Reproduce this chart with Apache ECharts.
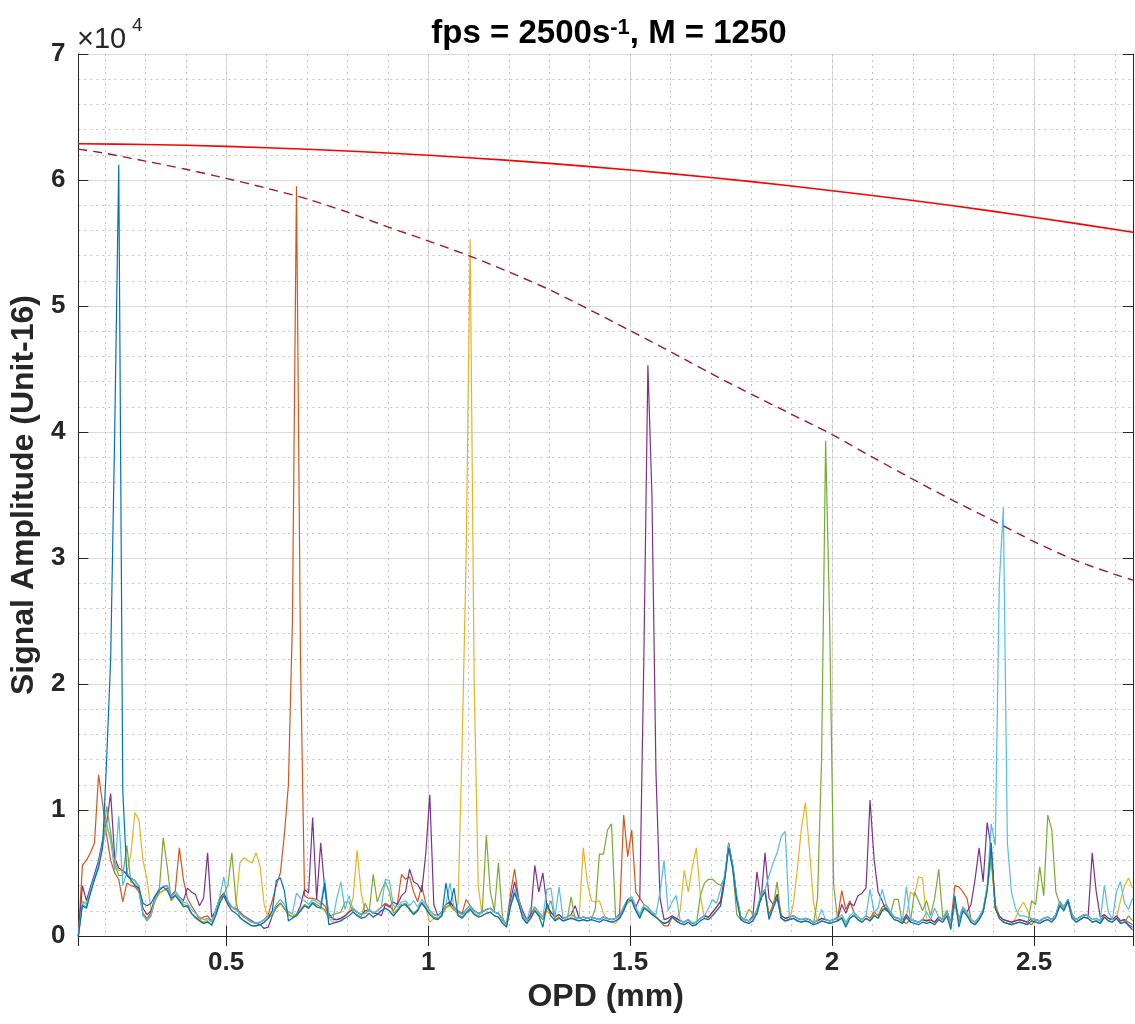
<!DOCTYPE html>
<html><head><meta charset="utf-8">
<script src="https://cdn.jsdelivr.net/npm/echarts@6/dist/echarts.min.js"></script>
<style>html,body{margin:0;padding:0;background:#fff}#c{width:1135px;height:1024px}</style>
</head><body><div id="c"></div>
<script>
// OPD sampling grid (mm)
const OPD_START = 0.134, OPD_STEP = 0.01;
// signal amplitudes, in thousands of counts, one value per OPD sample
const sigBlue = [
0,2.4,2.2,3.4,4.5,5.4,7.0,14,22,40,
61.2,11.5,4.8,4.5,4.0,3.8,2.6,2.4,2.6,3.2,
3.6,3.9,3.6,3.0,3.2,2.8,2.3,2.4,1.8,1.5,
1.2,1.0,1.1,0.9,1.6,2.6,3.2,2.5,2.0,1.8,
1.5,1.2,1.0,0.8,0.8,0.9,1.1,1.4,2.0,4.4,
4.6,3.6,1.2,1.4,1.6,2.0,2.4,2.2,2.6,2.3,
2.2,4.2,0.9,1.0,1.1,1.2,1.4,1.6,1.9,1.6,
1.4,1.5,1.8,1.5,1.7,2.0,2.2,2.0,1.6,2.0,
2.4,2.5,2.1,1.7,2.0,2.6,2.2,1.7,1.4,1.3,
1.6,4.2,2.4,3.8,1.6,1.4,1.8,2.1,1.7,1.5,
1.6,1.8,1.9,1.6,1.5,1.0,0.7,2.4,3.4,2.6,
1.4,1.0,1.4,2.0,1.6,0.7,2.6,1.6,1.2,1.4,
1.2,1.3,1.4,1.3,1.2,1.3,1.2,1.3,1.2,1.1,
1.3,1.2,1.1,1.2,1.4,2.0,2.9,2.8,2.0,1.4,
2.2,2.0,1.7,1.5,1.2,1.0,1.1,1.5,1.2,1.0,
0.9,1.1,0.8,0.9,1.2,1.4,1.3,1.6,2.0,2.4,
4.4,7.0,5.3,2.8,1.3,1.1,1.0,1.2,1.8,3.0,
3.5,1.3,2.2,3.0,1.4,1.2,1.3,1.4,1.2,1.1,
1.2,1.1,0.9,1.0,1.2,1.1,1.0,1.1,1.2,1.4,
0.7,1.4,1.6,1.3,1.1,1.4,1.2,1.6,1.4,2.0,
2.2,1.7,1.3,1.2,1.0,1.5,1.1,1.0,0.9,1.1,
1.0,1.1,0.9,1.3,1.1,1.6,0.5,3.2,0.7,2.0,
1.6,1.1,0.9,1.3,1.9,3.6,7.4,2.2,1.4,1.1,
1.0,0.9,1.0,1.1,1.0,0.9,1.2,1.1,1.0,1.2,
1.3,1.1,1.5,2.4,2.0,2.8,1.4,1.1,1.3,1.5,
1.4,1.1,1.2,1.0,1.5,1.2,1.1,1.4,1.0,1.1,
0.9,0.7];
const sigOrange = [
0,5.6,6.0,6.6,7.4,12.8,10.5,8.0,6.0,5.0,
4.5,2.7,4.2,4.0,3.9,3.5,1.8,1.4,1.9,2.8,
3.4,3.6,3.8,3.2,3.6,7.0,4.5,3.0,2.4,1.9,
1.3,1.5,1.6,1.2,2.0,3.0,3.2,2.6,2.3,2.2,
1.9,1.6,1.4,1.2,1.0,1.1,1.3,1.7,2.8,4.0,
5.0,8.0,12.0,25.0,59.5,22.0,3.2,3.0,3.0,2.9,
2.7,2.4,1.7,1.4,1.3,1.4,1.6,1.9,2.2,1.9,
1.7,1.8,2.1,1.8,2.0,2.3,2.6,2.4,2.0,2.6,
4.9,4.5,4.7,3.5,2.7,4.0,2.6,2.0,1.7,1.6,
1.9,2.5,2.7,2.3,2.0,1.8,2.9,2.4,2.0,1.8,
1.9,2.1,2.2,1.9,1.8,1.3,0.9,3.4,5.3,3.0,
1.7,1.2,1.7,2.3,1.9,1.5,2.3,1.9,1.5,1.7,
1.4,1.5,1.7,1.5,1.4,1.5,1.4,1.5,1.4,1.3,
1.5,1.4,1.3,1.4,1.8,9.6,6.3,8.4,3.5,3.0,
2.5,2.3,1.9,1.5,1.2,0.8,0.8,1.5,1.4,1.2,
1.1,1.3,1.0,1.1,1.4,1.6,1.5,1.9,2.3,2.8,
4.7,7.4,5.6,3.1,1.5,1.3,1.2,1.4,2.1,3.3,
3.7,1.7,2.5,3.3,1.6,1.4,1.5,1.6,1.4,1.3,
1.4,1.3,1.1,1.2,1.4,1.3,1.2,1.3,1.5,3.6,
2.1,2.8,1.9,1.5,1.3,1.6,1.4,1.9,1.6,2.3,
2.5,1.9,1.5,1.4,1.2,1.0,1.3,1.2,1.1,1.3,
1.2,1.3,1.1,1.5,1.3,2.0,1.1,4.0,3.9,3.5,
3.0,1.3,1.1,1.5,2.1,3.9,6.6,2.5,1.6,1.3,
1.2,1.1,1.2,1.3,1.2,1.1,0.9,1.3,1.2,1.4,
1.5,1.3,1.7,2.7,2.3,2.9,1.7,1.3,1.5,1.7,
1.6,1.3,1.4,1.2,1.7,1.4,1.3,1.6,1.2,1.3,
1.1,0.9];
const sigYellow = [
0,2.8,2.6,3.8,4.8,5.8,7.2,8.5,8.0,5.8,
5.2,5.2,5.0,6.5,9.8,9.2,6.0,4.5,2.0,2.8,
3.4,3.6,3.7,2.8,3.2,2.8,2.4,2.3,1.8,1.5,
1.3,1.1,1.4,1.1,2.0,3.0,3.3,2.5,2.0,2.4,
5.8,6.2,6.0,5.8,6.6,5.5,2.5,1.4,1.7,2.2,
2.6,2.2,1.9,1.7,1.6,2.0,2.4,2.2,2.6,2.4,
2.2,2.0,1.4,1.1,1.1,1.2,1.6,2.0,3.0,6.8,
3.5,1.8,1.8,1.5,1.7,2.0,2.2,2.0,1.6,2.0,
2.4,2.5,2.1,1.7,2.0,2.6,2.2,1.1,1.4,1.3,
1.6,2.2,2.4,2.0,2.5,15.0,30.0,55.3,20.0,4.0,
1.6,1.8,1.9,1.6,1.5,1.1,0.7,2.3,3.4,2.6,
1.5,1.0,1.5,2.0,1.6,1.3,2.0,1.6,1.3,1.5,
1.2,1.3,1.5,1.3,1.6,7.0,4.3,2.8,2.7,2.8,
1.8,1.2,1.1,1.0,1.4,2.0,2.6,2.8,2.0,1.5,
2.2,2.0,1.7,1.5,1.2,1.0,1.1,1.5,1.2,2.0,
5.2,3.5,5.5,7.0,3.2,1.4,1.3,1.7,2.0,2.4,
4.4,7.1,5.4,2.9,1.3,1.1,1.0,1.2,1.9,3.1,
3.5,1.5,2.3,3.1,1.4,1.2,1.3,2.5,5.3,8.5,
10.6,6.8,2.7,1.0,1.2,1.1,1.0,1.1,1.2,1.5,
0.9,1.4,1.7,1.3,1.1,1.4,1.2,1.7,1.4,2.1,
2.3,1.7,1.3,1.2,1.0,1.5,3.5,3.2,4.7,4.6,
1.3,1.1,0.9,1.3,1.1,1.8,0.8,2.6,1.1,2.1,
1.7,1.1,0.9,1.3,1.9,3.7,6.0,2.3,1.4,1.1,
1.0,0.9,1.4,2.2,2.7,2.0,1.2,1.1,1.0,1.2,
1.3,1.1,1.5,2.5,2.1,2.7,1.5,1.1,1.3,1.5,
1.4,1.1,1.2,1.0,1.5,1.2,1.1,1.4,2.8,4.0,
4.6,3.8];
const sigPurple = [
0,4.0,2.8,3.9,4.9,6.0,7.6,9.0,11.3,6.2,
5.4,5.2,4.9,4.6,4.4,3.9,2.2,1.7,2.0,3.1,
3.7,3.9,4.0,3.1,3.5,3.1,2.8,3.8,3.5,3.3,
2.4,3.0,6.6,1.5,2.0,3.0,3.4,2.8,2.3,2.1,
1.8,1.5,1.3,1.1,1.0,0.9,0.6,0.7,1.6,2.3,
2.6,2.2,1.7,1.5,1.7,2.4,3.7,3.4,9.4,2.9,
7.4,3.7,1.8,1.3,1.3,1.4,1.6,1.9,2.1,1.9,
1.7,2.0,2.1,1.8,1.8,1.6,2.5,2.3,2.7,2.5,
3.2,3.5,5.3,4.3,4.1,3.5,6.5,11.2,2.5,1.6,
1.9,2.5,2.7,2.3,1.9,1.7,2.1,2.4,2.0,1.8,
1.9,2.1,2.2,1.9,1.8,1.3,0.9,2.8,4.3,2.9,
2.0,1.3,1.7,5.6,3.5,5.0,2.4,1.9,1.5,1.7,
1.4,1.5,1.7,2.4,1.4,1.5,1.4,1.5,1.4,1.3,
1.5,1.4,1.3,1.4,1.6,2.3,2.9,3.1,2.3,3.0,
22.0,45.3,35.0,13.0,3.0,1.3,1.4,1.6,1.4,1.2,
1.1,1.3,1.0,1.1,1.4,1.6,1.5,1.9,2.3,2.7,
4.6,7.3,5.6,3.1,1.5,1.3,1.2,1.6,5.1,2.8,
6.6,3.0,2.5,3.3,1.6,1.4,1.5,1.6,1.4,1.3,
1.4,1.3,1.1,1.2,1.4,1.3,1.2,1.3,1.4,2.5,
1.8,2.6,2.4,3.2,3.4,3.8,10.8,6.1,3.5,2.8,
2.0,1.9,1.5,1.4,1.2,1.7,1.3,1.2,1.1,1.3,
1.2,1.3,1.1,1.5,1.3,2.0,1.0,2.8,1.3,2.3,
1.9,2.5,4.5,7.0,4.3,9.0,7.0,2.2,1.6,1.3,
1.2,1.1,1.2,1.3,1.2,1.1,1.4,1.3,1.2,1.4,
1.5,1.3,1.7,2.7,2.3,2.9,1.7,1.3,1.5,1.7,
1.6,6.6,3.5,1.5,1.7,1.4,1.3,1.6,1.2,1.3,
0.8,0.5];
const sigGreen = [
0,2.5,2.3,3.5,4.5,5.7,7.3,10.3,8.2,5.7,
4.8,4.8,7.2,4.3,4.1,3.6,1.7,1.2,1.6,2.9,
3.5,7.8,5.5,2.8,3.3,2.9,2.5,2.4,1.8,1.4,
1.2,1.0,1.2,0.8,1.7,2.8,3.3,4.0,6.6,2.8,
1.4,1.2,1.0,0.8,0.8,0.9,1.1,1.4,1.7,2.2,
2.6,2.2,1.7,1.5,1.7,2.1,2.5,2.3,2.7,2.5,
2.3,2.1,1.4,1.7,1.8,1.9,2.7,2.7,1.9,1.7,
1.5,2.6,1.9,4.9,2.7,3.6,4.3,3.5,1.8,2.1,
2.5,2.6,2.2,1.8,2.1,2.7,2.3,1.8,1.5,1.4,
1.7,2.3,2.5,2.1,1.7,1.5,1.9,2.2,1.8,1.6,
2.0,8.0,3.5,2.0,5.8,1.5,0.8,2.4,3.5,2.7,
1.5,1.0,1.5,2.1,1.7,1.3,2.1,2.8,1.3,1.5,
1.2,1.3,3.1,1.3,1.2,1.3,1.2,1.3,2.2,6.5,
6.5,8.4,8.9,1.5,1.4,2.1,2.7,2.9,2.1,1.5,
2.3,2.1,1.7,1.5,1.2,1.0,1.1,1.5,1.2,1.0,
0.9,1.1,0.8,0.9,3.2,4.2,4.5,4.5,4.2,4.0,
4.6,7.1,5.4,1.7,1.3,1.4,2.1,1.8,1.7,3.1,
3.5,1.5,2.3,4.3,1.4,1.2,1.3,1.4,1.2,1.1,
1.2,1.1,0.9,3.0,14.0,39.3,25.0,4.0,1.2,1.5,
0.9,1.4,1.7,1.3,1.1,1.4,1.2,1.7,1.4,2.1,
2.3,1.7,2.9,2.9,1.0,1.5,1.1,3.5,2.8,2.0,
2.8,1.6,3.0,5.3,1.5,1.8,0.8,2.6,1.1,2.1,
1.7,1.1,0.9,1.3,1.9,3.7,6.2,2.3,1.4,1.1,
1.0,0.9,1.0,1.1,1.0,0.9,2.8,2.5,5.5,3.2,
9.6,8.4,3.5,2.5,2.1,2.7,1.5,1.1,1.3,1.5,
1.4,1.1,1.2,1.0,1.5,1.2,1.1,1.4,1.0,1.1,
1.6,1.2];
const sigLightBlue = [
0,2.7,2.5,3.7,4.7,5.7,7.2,9.0,7.5,5.2,
9.5,4.0,5.0,4.6,4.4,3.9,1.6,1.3,1.7,3.0,
3.7,3.9,4.0,3.1,3.5,3.1,2.7,2.6,2.1,1.8,
1.5,1.3,1.4,1.1,2.0,3.1,4.7,2.8,2.3,2.1,
1.8,1.5,1.3,1.1,1.0,1.1,1.3,1.6,1.9,2.5,
2.9,2.5,1.9,1.8,3.4,3.0,2.8,2.5,2.9,2.7,
2.5,4.5,1.6,1.3,3.0,4.3,2.1,3.2,2.1,1.9,
1.7,1.8,2.1,1.8,2.0,2.3,4.5,4.4,2.4,2.3,
2.7,2.8,2.4,2.8,2.3,2.9,2.5,2.0,1.7,1.6,
1.9,2.5,4.2,2.3,1.9,1.7,2.1,2.4,2.0,1.8,
1.9,2.1,2.2,1.9,1.8,1.3,0.9,2.6,3.7,2.9,
1.7,1.2,2.3,2.3,1.9,1.5,3.7,3.8,1.5,3.9,
1.4,1.5,1.7,1.5,1.4,1.5,1.4,1.5,1.4,1.3,
1.5,1.4,1.3,1.4,1.6,2.3,2.9,3.1,2.3,1.7,
2.5,2.3,1.9,1.7,3.5,6.0,2.0,2.7,3.2,1.2,
1.1,1.3,1.0,1.1,1.4,1.6,2.2,2.9,2.6,3.7,
4.8,7.3,5.6,3.1,1.5,1.3,1.2,1.4,2.1,3.3,
3.7,4.8,5.8,6.6,7.9,8.3,1.5,1.6,1.4,1.3,
1.4,1.3,1.1,1.2,2.1,1.3,1.2,1.3,1.4,1.7,
1.1,1.6,1.9,1.5,1.3,1.6,3.7,1.9,2.2,3.7,
2.5,1.9,1.5,1.4,1.2,3.9,1.3,1.2,1.1,1.3,
1.9,1.3,2.2,1.5,1.3,2.0,1.0,2.8,1.3,2.3,
1.9,1.3,1.1,1.5,2.1,3.9,8.9,7.2,28.0,34.0,
7.4,3.5,2.2,1.6,1.6,1.5,1.4,1.3,1.2,1.4,
1.5,1.3,1.7,2.7,2.3,2.9,1.7,1.3,1.5,1.7,
1.6,1.3,1.4,1.2,4.0,1.9,1.3,3.5,4.3,2.6,
2.1,3.0];
// envelope curves (raw counts)
const envSolidX = [0.134,0.3,0.5,0.7,0.9,1.1,1.3,1.5,1.7,1.9,2.1,2.3,2.5,2.745];
const envSolidY = [62880,62820,62670,62440,62140,61770,61320,60790,60200,59520,58770,57950,57050,55850];
const envDashX = [0.134,0.2,0.3,0.4,0.5,0.6,0.7,0.8,0.9,1.0,1.1,1.2,1.3,1.4,1.5,1.6,1.7,1.8,1.9,2.0,2.1,2.2,2.3,2.4,2.5,2.6,2.7,2.745];
const envDashY = [62450,62120,61500,60850,60130,59350,58500,57450,56280,55170,54000,52700,51300,49700,48050,46370,44650,43000,41400,39800,38000,36250,34550,32950,31300,29850,28700,28250];
const yTickLabels = ['0','1','2','3','4','5','6','7'];

const FONT = '"Liberation Sans", Arial, sans-serif';
const AX = '#262626';
const X_MIN = 0.134, X_MAX = 2.745;
function toPts(vals){ return vals.map((v,i)=>[+(OPD_START + i*OPD_STEP).toFixed(3), v*1000]); }
function zip(xs, ys){ return xs.map((x,i)=>[x, ys[i]]); }

const noise = [
  ['#D95319', sigOrange], ['#EDB120', sigYellow], ['#7E2F8E', sigPurple],
  ['#77AC30', sigGreen], ['#4DBEEE', sigLightBlue], ['#0072BD', sigBlue]
];
const series = noise.map(([c, d]) => ({
  type:'line', data: toPts(d), showSymbol:false, symbol:'none',
  lineStyle:{color:c, width:1.2}, itemStyle:{color:c}, xAxisIndex:0, yAxisIndex:0, z:3
}));
series.push({type:'line', data: zip(envSolidX, envSolidY), showSymbol:false, symbol:'none', smooth:0.3,
  lineStyle:{color:'#FF0000', width:1.6}, z:4});
series.push({type:'line', data: zip(envDashX, envDashY), showSymbol:false, symbol:'none', smooth:0.3,
  lineStyle:{color:'#A2142F', width:1.4, type:[9,6]}, z:4});

const chart = echarts.init(document.getElementById('c'), null, {renderer:'canvas'});
chart.setOption({
  animation:false,
  backgroundColor:'#fff',
  textStyle:{fontFamily:FONT},
  title:{
    left:604, top:12, textAlign:'center',
    text:'{a|fps = 2500s}{s|-1}{a|, M = 1250}',
    textStyle:{rich:{
      a:{fontSize:33, fontWeight:'bold', fontFamily:FONT, color:'#000'},
      s:{fontSize:22, fontWeight:'bold', fontFamily:FONT, color:'#000', verticalAlign:'top'}
    }}
  },
  graphic:[
    {type:'text', left:77, top:25, style:{text:'×10', fontSize:29, fontFamily:FONT, fill:AX}},
    {type:'text', left:132, top:16, style:{text:'4', fontSize:19, fontFamily:FONT, fill:AX}}
  ],
  grid:{left:76, right:2, top:54, bottom:88, containLabel:false},
  xAxis:[
    {type:'value', position:'bottom', min:X_MIN, max:X_MAX, splitNumber:5,
     name:'OPD (mm)', nameLocation:'middle', nameGap:42,
     nameTextStyle:{fontSize:32, fontWeight:'bold', color:AX, fontFamily:FONT},
     axisLine:{show:true, lineStyle:{color:AX, width:1}},
     axisTick:{show:true, inside:true, length:10, lineStyle:{color:AX}},
     axisLabel:{show:true, showMinLabel:false, showMaxLabel:false, margin:14,
       fontSize:26, fontWeight:'bold', color:AX, fontFamily:FONT},
     splitLine:{show:true, lineStyle:{color:'#dadada', width:1}}},
    {type:'value', position:'top', min:X_MIN, max:X_MAX, splitNumber:5,
     axisLine:{show:true, lineStyle:{color:AX, width:1}},
     axisTick:{show:true, inside:true, length:10, lineStyle:{color:AX}},
     axisLabel:{show:false}, splitLine:{show:false}},
    {type:'value', position:'bottom', min:X_MIN, max:X_MAX, splitNumber:26,
     axisLine:{show:false}, axisTick:{show:false}, axisLabel:{show:false},
     splitLine:{show:true, lineStyle:{color:'#c4c4c4', width:1, type:[2,4]}}}
  ],
  yAxis:[
    {type:'value', position:'left', min:0, max:70000, interval:10000,
     name:'Signal Amplitude (Unit-16)', nameLocation:'middle', nameGap:34, nameRotate:90,
     nameTextStyle:{fontSize:32, fontWeight:'bold', color:AX, fontFamily:FONT},
     axisLine:{show:true, lineStyle:{color:AX, width:1}},
     axisTick:{show:true, inside:true, length:10, lineStyle:{color:AX}},
     axisLabel:{show:true, margin:13, fontSize:26, fontWeight:'bold', color:AX, fontFamily:FONT,
       formatter:(v)=>yTickLabels[Math.round(v/10000)]},
     splitLine:{show:true, lineStyle:{color:'#dadada', width:1}},
     minorTick:{show:false, splitNumber:5},
     minorSplitLine:{show:true, lineStyle:{color:'#c4c4c4', width:1, type:[2,4]}}},
    {type:'value', position:'right', min:0, max:70000, interval:10000,
     axisLine:{show:true, lineStyle:{color:AX, width:1}},
     axisTick:{show:true, inside:true, length:10, lineStyle:{color:AX}},
     axisLabel:{show:false}, splitLine:{show:false}}
  ],
  series: series
});
</script></body></html>
